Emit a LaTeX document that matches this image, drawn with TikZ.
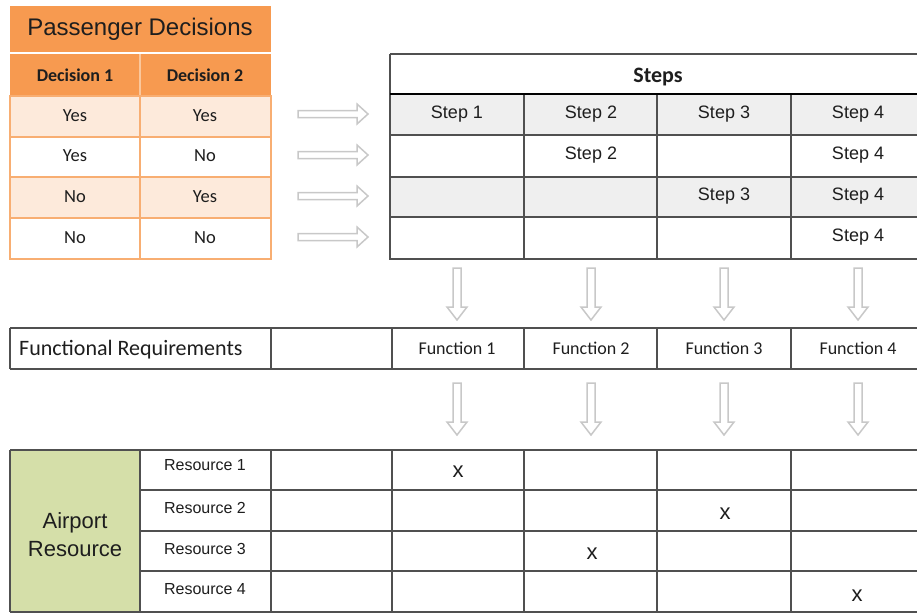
\documentclass[tikz,border=0pt]{standalone}
\usepackage{fontspec}
\setmainfont{Liberation Sans}
\newfontfamily\calib{Carlito}
\usetikzlibrary{calc}

\definecolor{orangeHead}{HTML}{F79A50}
\definecolor{orangeLine}{HTML}{F8AE72}
\definecolor{orangeSoft}{HTML}{FAC79C}
\definecolor{peach}{HTML}{FDEADB}
\definecolor{rowgray}{HTML}{EFEFEF}
\definecolor{gridline}{HTML}{505050}
\definecolor{arrowgray}{HTML}{C8C8C8}
\definecolor{olive}{HTML}{D5DFA9}
\definecolor{ink}{HTML}{1E1E1E}

% hollow block arrows between two named points
\newcommand\hollowright[2]{%
  \draw[hollowarrow] ($(#1)+(0,-3.5)$) -- ($(#2)+(-11,-3.5)$) -- ($(#2)+(-11,-10)$)
    -- (#2) -- ($(#2)+(-11,10)$) -- ($(#2)+(-11,3.5)$) -- ($(#1)+(0,3.5)$) -- cycle;}
\newcommand\hollowdown[2]{%
  \draw[hollowarrow] ($(#1)+(-4,0)$) -- ($(#2)+(-4,-13)$) -- ($(#2)+(-10,-13)$)
    -- (#2) -- ($(#2)+(10,-13)$) -- ($(#2)+(4,-13)$) -- ($(#1)+(4,0)$) -- cycle;}

\begin{document}
\begin{tikzpicture}[x=1pt,y=-1pt,
  grid/.style={draw=gridline, line width=1.7pt},
  otab/.style={draw=orangeLine, line width=1.6pt},
  hollowarrow/.style={draw=arrowgray, line width=1.5pt, fill=white, line join=miter},
  txt/.style={inner sep=0pt, text=ink},
  ar/.style={txt, font=\fontsize{18}{20}\selectfont},
  arsm/.style={txt, font=\fontsize{16}{18}\selectfont},
  xmark/.style={txt, font=\fontsize{22}{24}\selectfont},
  cb/.style={txt, font=\calib\fontsize{18}{20}\selectfont},
  cbs/.style={txt, font=\calib\fontsize{18.5}{20}\selectfont},
  cbb/.style={txt, font=\calib\bfseries\fontsize{18}{20}\selectfont},
]
\useasboundingbox (0,0) rectangle (917,614);
\clip (0,0) rectangle (917,614);
\fill[white] (0,0) rectangle (917,614);

% ---------------- passenger decisions table ----------------
\fill[orangeHead] (10,6) rectangle (271,52);
\fill[orangeHead] (10,54) rectangle (271,96);
\draw[orangeSoft, line width=1.2pt] (140,54) -- (140,96);
\fill[peach] (10,96) rectangle (271,137);
\fill[peach] (10,177) rectangle (271,218);
\draw[otab] (10,96) rectangle (271,259);
\foreach \yy in {137,177,218} \draw[otab] (10,\yy) -- (271,\yy);
\draw[otab] (140,96) -- (140,259);

\node[txt, font=\fontsize{24}{28}\selectfont] (pd) at (140,29) {Passenger Decisions};
\node[cbb] (d1) at (75,75) {Decision 1};
\node[cbb] (d2) at (205,75) {Decision 2};
\node[cbs] (r1a) at (75,116) {Yes};  \node[cbs] (r1b) at (205,116) {Yes};
\node[cbs] (r2a) at (75,156) {Yes};  \node[cbs] (r2b) at (205,156) {No};
\node[cbs] (r3a) at (75,197) {No};   \node[cbs] (r3b) at (205,197) {Yes};
\node[cbs] (r4a) at (75,238) {No};   \node[cbs] (r4b) at (205,238) {No};

% ---------------- steps table ----------------
\fill[rowgray] (390,94) rectangle (930,135);
\fill[rowgray] (390,177) rectangle (930,217);
\draw[grid] (390,54) -- (930,54);
\draw[grid] (390,54) -- (390,259) -- (930,259);
\foreach \yy in {135,177,217} \draw[grid] (390,\yy) -- (930,\yy);
\foreach \xx in {524,657,791} \draw[grid] (\xx,94) -- (\xx,259);
\draw[black, line width=2.6pt] (390,94) -- (930,94);

\node[txt, font=\calib\bfseries\fontsize{22}{24}\selectfont] (steps) at (658,77) {Steps};
\node[ar] (s11) at (457,114) {Step 1};
\node[ar] (s12) at (591,114) {Step 2};
\node[ar] (s13) at (724,114) {Step 3};
\node[ar] (s14) at (858,114) {Step 4};
\node[ar] (s22) at (591,155) {Step 2};
\node[ar] (s24) at (858,155) {Step 4};
\node[ar] (s33) at (724,196) {Step 3};
\node[ar] (s34) at (858,196) {Step 4};
\node[ar] (s44) at (858,237) {Step 4};

% decision rows lead to step rows
\foreach \i/\yy in {1/114,2/155,3/196,4/237}{
  \coordinate (ha\i) at (298,\yy);
  \coordinate (hb\i) at (368,\yy);
}
\hollowright{ha1}{hb1}
\hollowright{ha2}{hb2}
\hollowright{ha3}{hb3}
\hollowright{ha4}{hb4}

% ---------------- functional requirements row ----------------
\draw[grid] (10,328) -- (930,328);
\draw[grid] (10,369) -- (930,369);
\foreach \xx in {10,271,392,524,657,791} \draw[grid] (\xx,328) -- (\xx,369);

\node[txt, anchor=west, font=\calib\fontsize{22}{24}\selectfont] (fr) at (19,350) {Functional Requirements};
\node[cb] (f1) at (457,348) {Function 1};
\node[cb] (f2) at (591,348) {Function 2};
\node[cb] (f3) at (724,348) {Function 3};
\node[cb] (f4) at (858,348) {Function 4};

% steps lead to functions, functions lead to resources
\foreach \i/\xx in {1/457,2/591,3/724,4/858}{
  \coordinate (ua\i) at (\xx,268);
  \coordinate (ub\i) at (\xx,320);
  \coordinate (la\i) at (\xx,383);
  \coordinate (lb\i) at (\xx,435);
}
\hollowdown{ua1}{ub1} \hollowdown{ua2}{ub2} \hollowdown{ua3}{ub3} \hollowdown{ua4}{ub4}
\hollowdown{la1}{lb1} \hollowdown{la2}{lb2} \hollowdown{la3}{lb3} \hollowdown{la4}{lb4}

% ---------------- airport resource table ----------------
\fill[olive] (10,450) rectangle (140,612);
\draw[grid] (10,450) -- (930,450);
\draw[grid] (10,612) -- (930,612);
\foreach \yy in {490,531,571} \draw[grid] (140,\yy) -- (930,\yy);
\foreach \xx in {10,140,271,392,524,657,791} \draw[grid] (\xx,450) -- (\xx,612);

\node[txt, align=center, font=\fontsize{22}{28}\selectfont] (ap) at (75,535) {Airport\\Resource};
\node[arsm] (res1) at (205,465) {Resource 1};
\node[arsm] (res2) at (205,508) {Resource 2};
\node[arsm] (res3) at (205,549) {Resource 3};
\node[arsm] (res4) at (205,589) {Resource 4};

\node[xmark] (x1) at (458,472) {x};
\node[xmark] (x2) at (725,514) {x};
\node[xmark] (x3) at (592,554) {x};
\node[xmark] (x4) at (857,596) {x};
\end{tikzpicture}
\end{document}
